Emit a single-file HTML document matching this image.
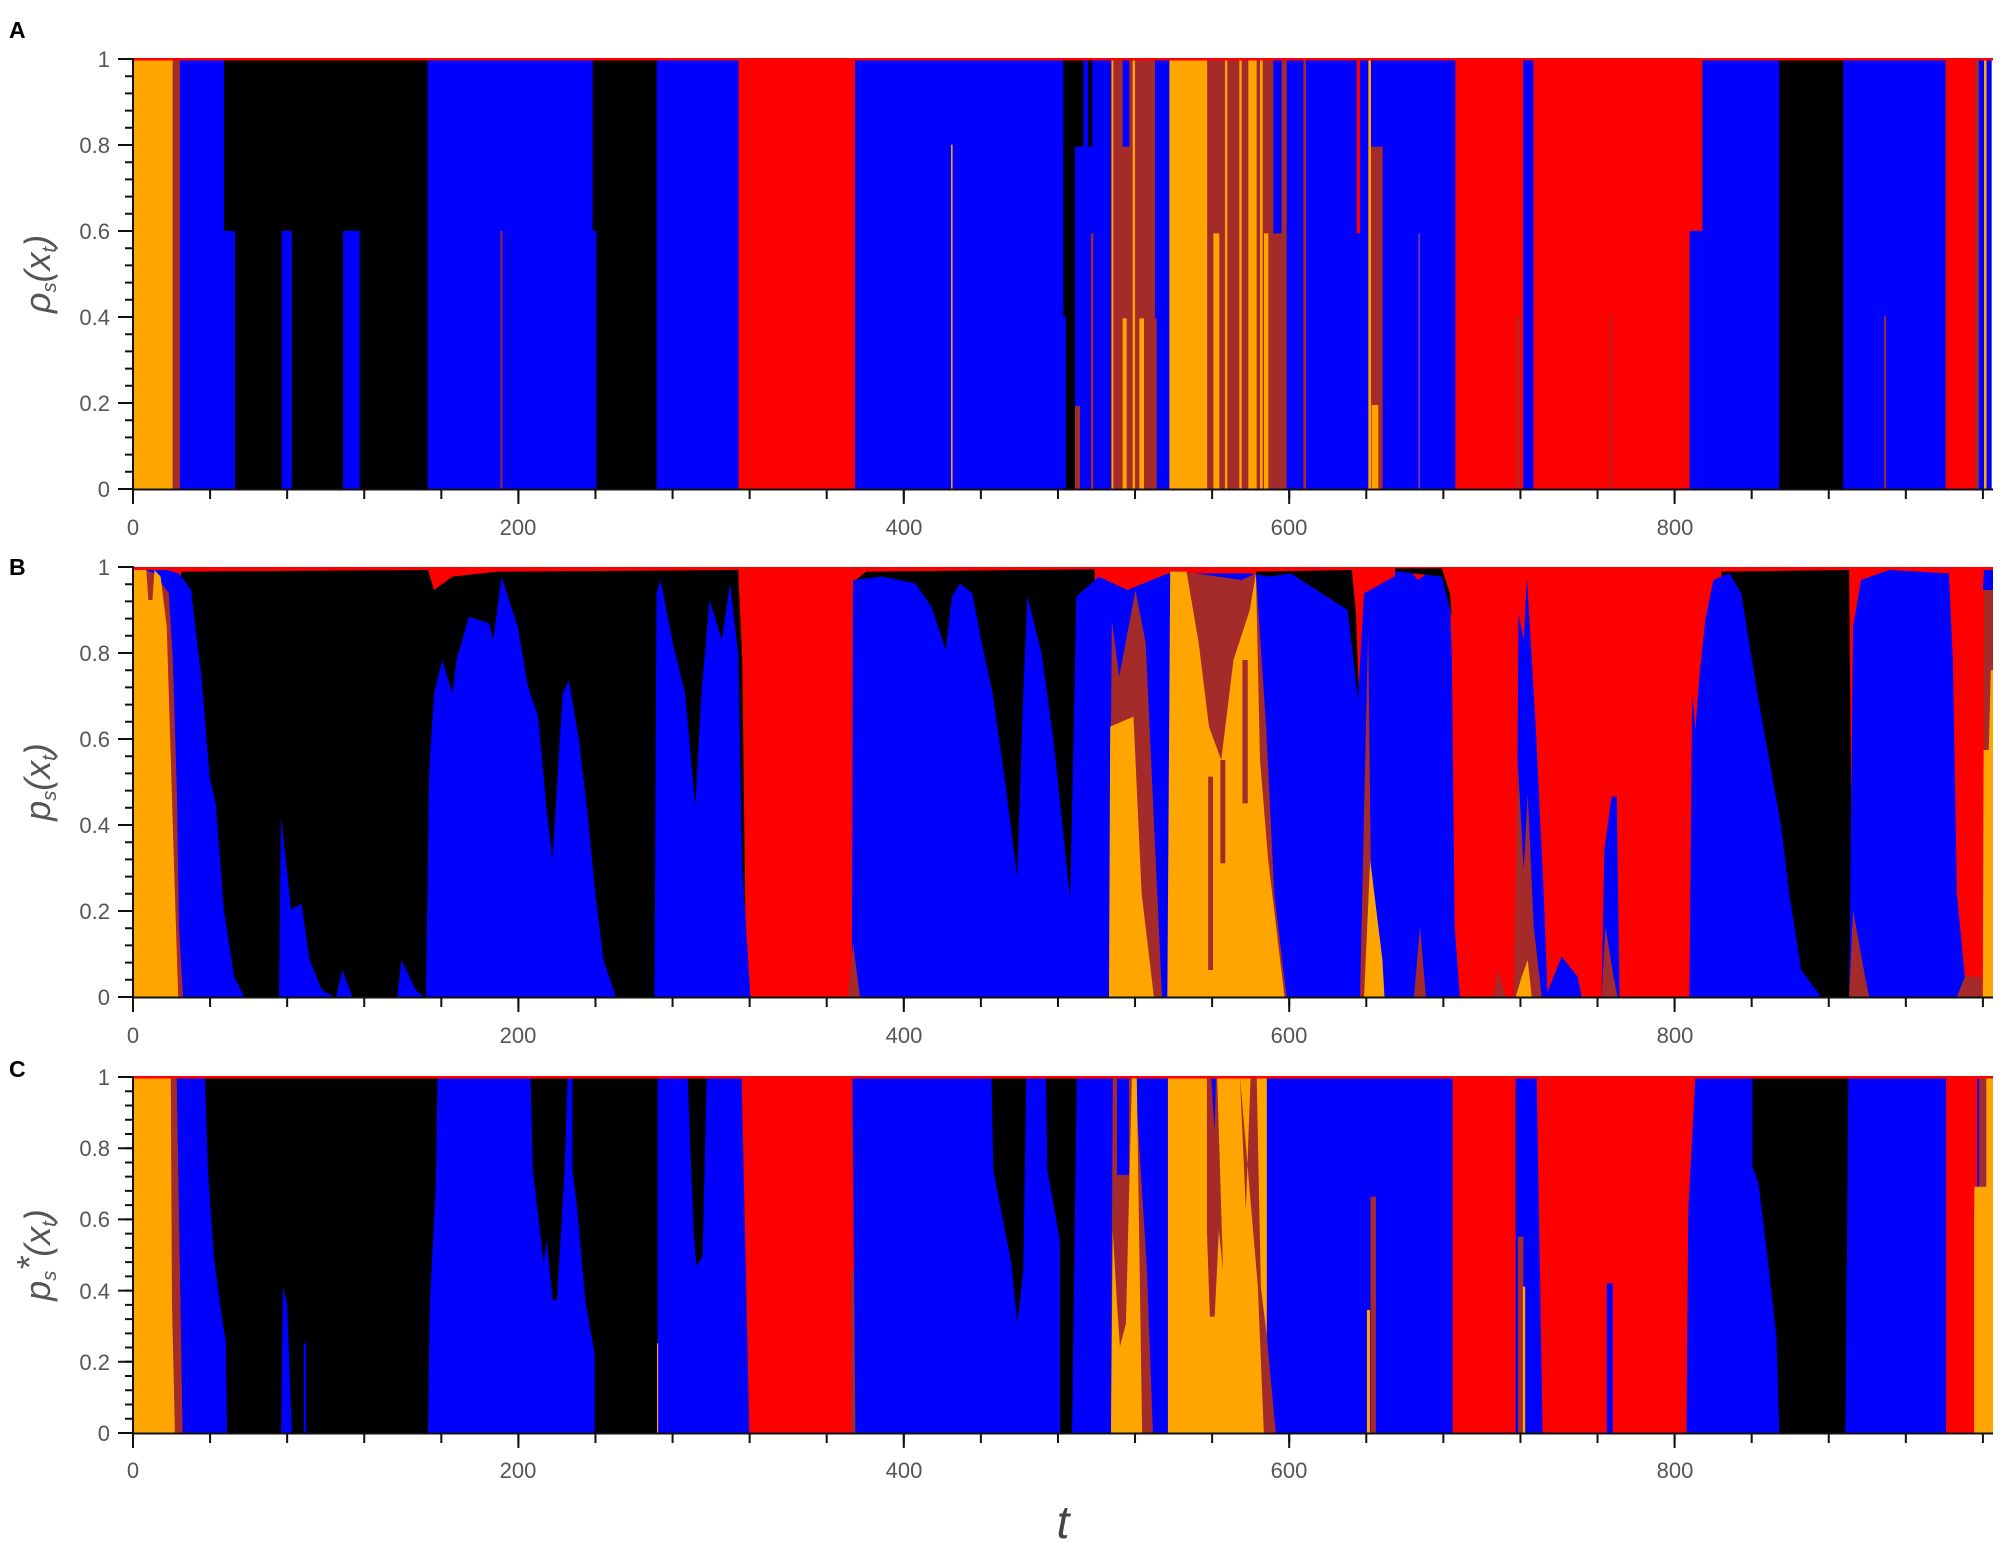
<!DOCTYPE html>
<html><head><meta charset="utf-8"><style>
html,body{margin:0;padding:0;background:#fff;}
svg{display:block;}
.tl{font-family:"Liberation Sans",sans-serif;font-size:22px;fill:#555;}
.yl{font-family:"Liberation Sans",sans-serif;font-size:36px;fill:#555;}
.pl{font-family:"Liberation Sans",sans-serif;font-size:23px;font-weight:bold;fill:#000;}
</style></head><body>
<svg width="2008" height="1549" viewBox="0 0 2008 1549" xmlns="http://www.w3.org/2000/svg">
<defs>
<clipPath id="cA"><rect x="133" y="59" width="1860" height="430"/></clipPath>
<clipPath id="cA5"><rect x="1040" y="59" width="400" height="430"/></clipPath>
<clipPath id="cB6"><rect x="133" y="567" width="632" height="430"/></clipPath>
<clipPath id="cB7"><rect x="765" y="567" width="630" height="430"/></clipPath>
<clipPath id="cB8"><rect x="1395" y="567" width="598" height="430"/></clipPath>
<clipPath id="cC9"><rect x="133" y="1077" width="927" height="356"/></clipPath>
<clipPath id="cC10"><rect x="1060" y="1077" width="933" height="356"/></clipPath>
</defs>

<!-- ===== Panel A ===== -->
<g clip-path="url(#cA)">
<g transform="scale(1.28)">
<rect x="104" y="46" width="1452" height="336" fill="#00f"/>
<rect x="175" y="46" width="159" height="336" fill="#000"/>
<rect x="104" y="46" width="31" height="336" fill="#FFA500"/>
<rect x="135" y="46" width="5.6" height="336" fill="#A52A2A"/>
<rect x="173.4" y="180.4" width="10.2" height="201.6" fill="#00f"/>
<rect x="220" y="180.4" width="8" height="201.6" fill="#00f"/>
<rect x="268" y="180.4" width="13" height="201.6" fill="#00f"/>
<rect x="391" y="180.4" width="1.5" height="201.6" fill="#A52A2A"/>
<rect x="463" y="46" width="50" height="336" fill="#000"/>
<rect x="463" y="180.4" width="3" height="201.6" fill="#00f"/>
<rect x="577" y="46" width="91" height="336" fill="#f00"/>
<rect x="743" y="113" width="1.2" height="269" fill="#FFA500"/>
<rect x="1137" y="46" width="193" height="336" fill="#f00"/>
<rect x="1190" y="46" width="8" height="336" fill="#00f"/>
<rect x="1185" y="247" width="2" height="135" fill="#A52A2A"/>
<rect x="1258" y="247" width="1.5" height="135" fill="#A52A2A"/>
<rect x="1320" y="180.4" width="10" height="201.6" fill="#00f"/>
<rect x="1390" y="46" width="50" height="336" fill="#000"/>
<rect x="1472" y="247" width="1.5" height="135" fill="#A52A2A"/>
<rect x="1520" y="46" width="23" height="336" fill="#f00"/>
<rect x="1543" y="46" width="3" height="336" fill="#A52A2A"/>
<rect x="1550" y="46" width="2" height="336" fill="#FFA500"/>
</g>
</g>
<g clip-path="url(#cA5)">
<g transform="translate(1040,50) scale(0.33333)">
<rect x="0" y="30" width="1200" height="1290" fill="#00f"/>
<rect x="70" y="30" width="60" height="260" fill="#000"/>
<rect x="70" y="30" width="35" height="770" fill="#000"/>
<rect x="78" y="30" width="27" height="1290" fill="#000"/>
<rect x="145" y="30" width="12" height="260" fill="#000"/>
<rect x="105" y="1068" width="15" height="252" fill="#A52A2A"/>
<rect x="153" y="550" width="7" height="770" fill="#A52A2A"/>
<rect x="213" y="30" width="137" height="1290" fill="#A52A2A"/>
<rect x="215" y="30" width="5" height="1290" fill="#FFA500"/>
<rect x="248" y="30" width="20" height="260" fill="#00f"/>
<rect x="248" y="805" width="12" height="515" fill="#FFA500"/>
<rect x="278" y="30" width="7" height="1290" fill="#FFA500"/>
<rect x="345" y="30" width="5" height="775" fill="#00f"/>
<rect x="298" y="805" width="14" height="515" fill="#FFA500"/>
<rect x="388" y="30" width="114" height="1290" fill="#FFA500"/>
<rect x="502" y="30" width="238" height="1290" fill="#A52A2A"/>
<rect x="520" y="550" width="18" height="770" fill="#FFA500"/>
<rect x="555" y="30" width="7" height="1290" fill="#FFA500"/>
<rect x="598" y="30" width="7" height="1290" fill="#FFA500"/>
<rect x="625" y="30" width="25" height="1290" fill="#FFA500"/>
<rect x="660" y="30" width="8" height="1290" fill="#FFA500"/>
<rect x="672" y="550" width="13" height="770" fill="#FFA500"/>
<rect x="700" y="30" width="25" height="520" fill="#00f"/>
<rect x="790" y="30" width="8" height="1290" fill="#A52A2A"/>
<rect x="950" y="30" width="10" height="520" fill="#f00"/>
<rect x="985" y="30" width="8" height="1290" fill="#FFA500"/>
<rect x="993" y="290" width="35" height="1030" fill="#A52A2A"/>
<rect x="995" y="30" width="25" height="260" fill="#00f"/>
<rect x="995" y="1065" width="20" height="255" fill="#FFA500"/>
<rect x="1135" y="550" width="5" height="770" fill="#6A3FB0"/>
</g>
</g>
<rect x="133" y="58" width="1860" height="2.5" fill="#f00"/>

<!-- ===== Panel B ===== -->
<g clip-path="url(#cB6)">
<g transform="translate(130,560) scale(0.40816,0.33333)">
<rect x="0" y="20" width="1600" height="1300" fill="#f00"/>
<polygon fill="#000" points="120,1310 125,35 730,30 745,90 790,50 900,35 1490,30 1500,300 1510,1310"/>
<polygon fill="#00f" points="15,1310 30,30 90,30 120,40 150,90 160,200 175,350 195,650 210,730 230,1050 255,1250 280,1310"/>
<polygon fill="#A52A2A" points="35,1310 35,30 60,40 95,100 105,300 115,700 120,1100 130,1310"/>
<polygon fill="#FFA500" points="0,1310 0,30 40,30 45,120 55,120 60,30 75,50 90,200 100,600 110,1000 118,1310"/>
<polygon fill="#00f" points="365,1310 370,770 395,1050 420,1030 440,1200 470,1290 500,1310"/>
<polygon fill="#00f" points="505,1310 520,1230 545,1310"/>
<polygon fill="#00f" points="655,1310 665,1200 700,1290 720,1310"/>
<polygon fill="#00f" points="725,1310 733,630 745,400 765,300 790,400 800,300 830,170 880,190 890,240 910,50 950,200 975,380 1000,470 1020,740 1035,900 1045,700 1060,400 1075,360 1100,540 1120,750 1140,1000 1160,1200 1190,1310"/>
<polygon fill="#00f" points="1285,1310 1290,100 1300,60 1330,250 1360,400 1385,740 1400,400 1420,120 1450,240 1470,70 1490,280 1500,920 1520,1310"/>
</g>
</g>
<g clip-path="url(#cB7)">
<g transform="translate(760,560) scale(0.40816,0.33333)">
<rect x="0" y="20" width="1600" height="1300" fill="#f00"/>
<polygon fill="#000" points="228,1310 235,60 260,35 820,28 825,1310"/>
<polygon fill="#000" points="1205,1310 1215,35 1450,30 1460,160 1468,420 1475,1310"/>
<polygon fill="#00f" points="225,1310 228,60 300,50 380,70 420,140 455,270 470,110 490,70 520,100 545,260 570,400 600,660 630,950 645,400 655,110 690,280 720,550 760,1020 775,110 830,50 900,90 1000,40 1200,40 1250,50 1300,40 1440,150 1465,420 1480,100 1510,80 1568,40 1600,40 1600,1310"/>
<polygon fill="#A52A2A" points="855,1310 862,180 880,350 920,90 945,250 985,1310"/>
<polygon fill="#FFA500" points="855,1310 858,500 915,470 935,1000 965,1310"/>
<polygon fill="#A52A2A" points="998,1310 1008,30 1180,60 1215,40 1240,500 1260,1000 1290,1310"/>
<polygon fill="#FFA500" points="998,1310 1005,35 1045,35 1075,250 1100,500 1130,600 1160,300 1200,150 1215,40 1225,600 1245,900 1285,1310"/>
<rect x="1098" y="650" width="12" height="580" fill="#A52A2A"/>
<rect x="1128" y="600" width="12" height="310" fill="#A52A2A"/>
<rect x="1182" y="300" width="13" height="430" fill="#A52A2A"/>
<polygon fill="#A52A2A" points="1470,1310 1490,200 1500,1310"/>
<polygon fill="#FFA500" points="1480,1310 1495,900 1525,1200 1530,1310"/>
<polygon fill="#A52A2A" points="215,1310 228,1150 245,1310"/>
</g>
</g>
<g clip-path="url(#cB8)">
<g transform="translate(1390,560) scale(0.39920,0.33333)">
<rect x="0" y="20" width="1600" height="1300" fill="#f00"/>
<polygon fill="#00f" points="0,1310 0,30 50,30 70,60 100,35 130,50 150,100 155,300 162,1100 175,1310"/>
<polygon fill="#000" points="0,25 130,25 150,100 155,170 130,50 0,32"/>
<polygon fill="#00f" points="315,1310 322,160 335,240 343,50 365,500 385,1000 395,1310"/>
<polygon fill="#A52A2A" points="310,1310 320,600 335,930 345,700 360,1100 380,1310"/>
<polygon fill="#FFA500" points="315,1310 330,1250 345,1200 355,1310"/>
<polygon fill="#00f" points="530,1310 537,870 555,710 568,710 575,1310"/>
<polygon fill="#A52A2A" points="530,1310 540,1100 560,1250 570,1310"/>
<polygon fill="#00f" points="390,1310 430,1190 470,1250 480,1310"/>
<polygon fill="#A52A2A" points="60,1310 75,1100 90,1310"/>
<polygon fill="#A52A2A" points="260,1310 270,1230 290,1310"/>
<polygon fill="#000" points="820,1310 830,35 1150,30 1160,1310"/>
<polygon fill="#00f" points="750,1310 757,400 765,510 775,350 790,180 810,60 850,40 880,100 900,250 920,400 950,600 980,800 1000,1000 1030,1230 1080,1310"/>
<polygon fill="#00f" points="1150,1310 1160,200 1180,60 1250,30 1400,40 1410,300 1420,1000 1440,1250 1470,1310"/>
<polygon fill="#A52A2A" points="1150,1310 1160,1050 1190,1250 1200,1310"/>
<polygon fill="#A52A2A" points="1420,1310 1440,1250 1480,1250 1485,1310"/>
<polygon fill="#00f" points="1485,90 1488,30 1530,30 1530,90"/>
<polygon fill="#A52A2A" points="1485,1310 1488,90 1530,90 1530,1310"/>
<polygon fill="#FFA500" points="1485,1310 1487,570 1500,570 1505,330 1530,330 1530,1310"/>
</g>
</g>

<!-- ===== Panel C ===== -->
<g clip-path="url(#cC9)">
<g transform="translate(130,1070) scale(0.59952,0.33333)">
<rect x="0" y="15" width="1600" height="1080" fill="#000"/>
<rect x="0" y="15" width="75" height="1080" fill="#FFA500"/>
<polygon fill="#A52A2A" points="68,15 78,15 88,1090 75,1090 70,700"/>
<polygon fill="#00f" points="78,15 125,15 130,300 140,560 150,700 160,820 162,1090 88,1090"/>
<polygon fill="#00f" points="252,1090 255,650 262,700 270,1090"/>
<rect x="290" y="820" width="4" height="270" fill="#00f"/>
<polygon fill="#00f" points="497,1090 500,700 510,350 513,15 668,15 672,300 690,580 695,510 705,690 712,690 725,300 730,15 738,15 738,300 745,400 760,700 775,850 775,1090"/>
<polygon fill="#00f" points="880,1090 880,15 930,15 940,480 945,590 955,560 962,15 1020,15 1033,1090"/>
<rect x="879" y="820" width="2" height="270" fill="#FFA500"/>
<polygon fill="#f00" points="1020,15 1205,15 1210,1090 1033,1090"/>
<rect x="1203" y="600" width="10" height="490" fill="#A52A2A"/>
<polygon fill="#00f" points="1205,15 1600,15 1600,1090 1210,1090"/>
<polygon fill="#000" points="1437,15 1495,15 1490,600 1480,760 1470,580 1440,300"/>
<polygon fill="#000" points="1528,15 1600,15 1600,820 1565,820 1550,500 1530,300"/>
</g>
</g>
<g clip-path="url(#cC10)">
<g transform="translate(1060,1070) scale(0.59952,0.33333)">
<rect x="0" y="15" width="1600" height="1080" fill="#00f"/>
<polygon fill="#000" points="0,15 28,15 20,1090 0,1090"/>
<polygon fill="#A52A2A" points="88,15 125,15 145,600 155,1090 85,1090"/>
<polygon fill="#FFA500" points="85,1090 88,480 95,700 100,830 110,760 120,15 128,15 137,1090"/>
<rect x="95" y="15" width="20" height="300" fill="#00f"/>
<rect x="180" y="15" width="165" height="1075" fill="#FFA500"/>
<polygon fill="#A52A2A" points="245,15 262,15 272,600 265,480 258,740 250,740 245,480"/>
<polygon fill="#00f" points="252,15 260,15 258,185"/>
<polygon fill="#A52A2A" points="300,15 310,420 318,15 328,15 335,650 345,800 360,1090 340,1090 330,650"/>
<rect x="518" y="380" width="9" height="710" fill="#A52A2A"/>
<rect x="512" y="720" width="5" height="370" fill="#FFA500"/>
<rect x="655" y="15" width="105" height="1075" fill="#f00"/>
<rect x="764" y="500" width="9" height="590" fill="#A52A2A"/>
<rect x="772" y="650" width="4" height="440" fill="#FFA500"/>
<polygon fill="#f00" points="795,15 1060,15 1048,420 1045,1090 805,1090"/>
<rect x="912" y="640" width="10" height="450" fill="#00f"/>
<polygon fill="#000" points="1155,15 1315,15 1310,1090 1200,1090 1195,800 1180,560 1165,340 1155,290"/>
<rect x="1478" y="15" width="52" height="1075" fill="#f00"/>
<rect x="1525" y="350" width="40" height="740" fill="#FFA500"/>
<rect x="1525" y="420" width="10" height="670" fill="#FFA500"/>
<rect x="1533" y="15" width="12" height="335" fill="#A52A2A"/>
<rect x="1545" y="15" width="20" height="405" fill="#FFA500"/>
</g>
</g>
<rect x="133" y="1076" width="1860" height="2.5" fill="#f00"/>

<!-- ===== Axes ===== -->
<g stroke="#111" fill="none">
<line x1="133" y1="58" x2="133" y2="490" stroke-width="2"/>
<line x1="132" y1="489.5" x2="1993" y2="489.5" stroke-width="2"/>
<line x1="129" y1="490" x2="129" y2="57" stroke-width="8" stroke-dasharray="2 15.2"/>
<line x1="125.5" y1="490" x2="125.5" y2="57" stroke-width="15" stroke-dasharray="2 84"/>
<line x1="132" y1="494" x2="1995" y2="494" stroke-width="10" stroke-dasharray="2 75.08"/>
<line x1="132" y1="496.5" x2="1995" y2="496.5" stroke-width="15" stroke-dasharray="2 383.4"/>
<line x1="133" y1="566" x2="133" y2="998" stroke-width="2"/>
<line x1="132" y1="997.5" x2="1993" y2="997.5" stroke-width="2"/>
<line x1="129" y1="998" x2="129" y2="565" stroke-width="8" stroke-dasharray="2 15.2"/>
<line x1="125.5" y1="998" x2="125.5" y2="565" stroke-width="15" stroke-dasharray="2 84"/>
<line x1="132" y1="1002" x2="1995" y2="1002" stroke-width="10" stroke-dasharray="2 75.08"/>
<line x1="132" y1="1004.5" x2="1995" y2="1004.5" stroke-width="15" stroke-dasharray="2 383.4"/>
<line x1="133" y1="1076" x2="133" y2="1434" stroke-width="2"/>
<line x1="132" y1="1433.5" x2="1993" y2="1433.5" stroke-width="2"/>
<line x1="129" y1="1434" x2="129" y2="1075" stroke-width="8" stroke-dasharray="2 12.24"/>
<line x1="125.5" y1="1434" x2="125.5" y2="1075" stroke-width="15" stroke-dasharray="2 69.2"/>
<line x1="132" y1="1438" x2="1995" y2="1438" stroke-width="10" stroke-dasharray="2 75.08"/>
<line x1="132" y1="1440.5" x2="1995" y2="1440.5" stroke-width="15" stroke-dasharray="2 383.4"/>
</g>

<g class="tl" text-anchor="end">
<text x="110" y="497">0</text><text x="110" y="411">0.2</text><text x="110" y="325">0.4</text><text x="110" y="239">0.6</text><text x="110" y="153">0.8</text><text x="110" y="67">1</text>
<text x="110" y="1005">0</text><text x="110" y="919">0.2</text><text x="110" y="833">0.4</text><text x="110" y="747">0.6</text><text x="110" y="661">0.8</text><text x="110" y="575">1</text>
<text x="110" y="1441">0</text><text x="110" y="1370">0.2</text><text x="110" y="1299">0.4</text><text x="110" y="1227">0.6</text><text x="110" y="1156">0.8</text><text x="110" y="1085">1</text>
</g>
<g class="tl" text-anchor="middle">
<text x="133" y="535">0</text><text x="518" y="535">200</text><text x="904" y="535">400</text><text x="1289" y="535">600</text><text x="1675" y="535">800</text>
<text x="133" y="1043">0</text><text x="518" y="1043">200</text><text x="904" y="1043">400</text><text x="1289" y="1043">600</text><text x="1675" y="1043">800</text>
<text x="133" y="1478">0</text><text x="518" y="1478">200</text><text x="904" y="1478">400</text><text x="1289" y="1478">600</text><text x="1675" y="1478">800</text>
</g>

<text class="yl" transform="translate(50,274) rotate(-90)" text-anchor="middle" font-style="italic">ρ<tspan font-size="20" dy="6">s</tspan><tspan dy="-6">(x</tspan><tspan font-size="20" dy="6">t</tspan><tspan dy="-6">)</tspan></text>
<text class="yl" transform="translate(50,782) rotate(-90)" text-anchor="middle" font-style="italic">p<tspan font-size="20" dy="6">s</tspan><tspan dy="-6">(x</tspan><tspan font-size="20" dy="6">t</tspan><tspan dy="-6">)</tspan></text>
<text class="yl" transform="translate(50,1255) rotate(-90)" text-anchor="middle" font-style="italic">p<tspan font-size="20" dy="6">s</tspan><tspan dy="-14">*</tspan><tspan dy="8">(x</tspan><tspan font-size="20" dy="6">t</tspan><tspan dy="-6">)</tspan></text>

<text class="pl" x="9" y="38">A</text>
<text class="pl" x="9" y="575">B</text>
<text class="pl" x="9" y="1077">C</text>

<text x="1063" y="1538" font-family="Liberation Sans, sans-serif" font-size="46" font-style="italic" fill="#444" text-anchor="middle">t</text>
</svg>
</body></html>
